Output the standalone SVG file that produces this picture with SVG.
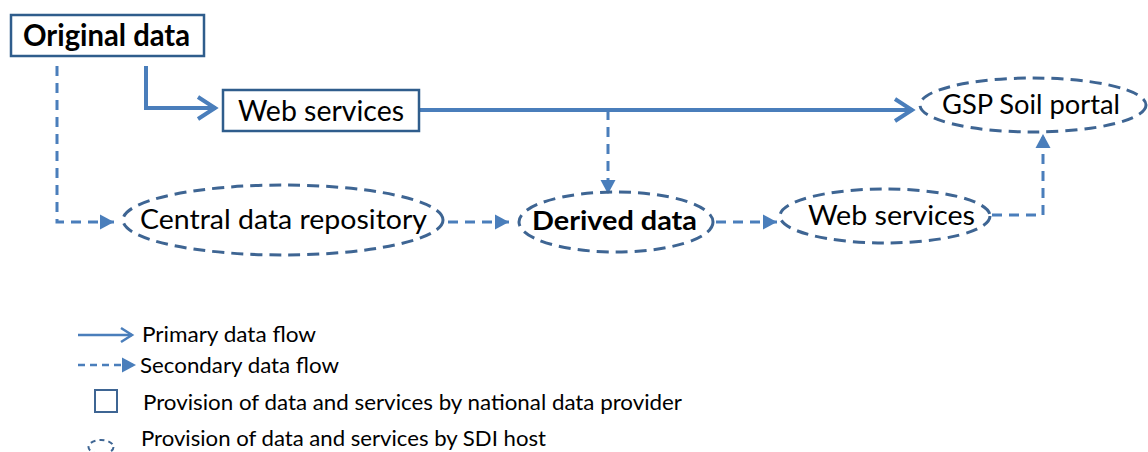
<svg xmlns="http://www.w3.org/2000/svg" width="1148" height="452" viewBox="0 0 1148 452">
<style>
  text { font-family: Lato, "Open Sans", "Liberation Sans", sans-serif; fill: #000; }
  .box { fill: #fff; stroke: #2F5D8C; stroke-width: 2.5; }
  .ell { fill: none; stroke: #3E6593; stroke-width: 3; stroke-dasharray: 12 7; }
  .solid { fill: none; stroke: #4A7EBB; stroke-width: 4; }
  .dash { fill: none; stroke: #4A7EBB; stroke-width: 3; stroke-dasharray: 10 7; }
  .big { font-size: 27px; }
  .leg { font-size: 21px; }
</style>
<defs>
  <marker id="chev" markerUnits="userSpaceOnUse" markerWidth="26" markerHeight="28" refX="21" refY="13" orient="auto">
    <path d="M3,2 L20,13 L3,24" fill="none" stroke="#4A7EBB" stroke-width="4" stroke-linejoin="miter"/>
  </marker>
  <marker id="chevS" markerUnits="userSpaceOnUse" markerWidth="18" markerHeight="18" refX="14" refY="9" orient="auto">
    <path d="M3,2 L14,9 L3,16" fill="none" stroke="#4A7EBB" stroke-width="2.5"/>
  </marker>
  <marker id="tri" markerUnits="userSpaceOnUse" markerWidth="15" markerHeight="18" refX="14" refY="9" orient="auto">
    <path d="M0,1.5 L14,9 L0,16.5 Z" fill="#4A7EBB"/>
  </marker>
</defs>

<g id="connectors">
  <path class="solid" d="M146 66 V108 H216" marker-end="url(#chev)"/>
  <path class="solid" d="M419 110 H913" marker-end="url(#chev)"/>
  <path class="dash" d="M57 66 V222 H114" marker-end="url(#tri)"/>
  <path class="dash" d="M608 110 V194" marker-end="url(#tri)"/>
  <path class="dash" d="M448 222 H509" marker-end="url(#tri)"/>
  <path class="dash" d="M716 222 H777" marker-end="url(#tri)"/>
  <path class="dash" d="M992 215 H1043 V134" marker-end="url(#tri)"/>
</g>

<g id="original-data">
  <rect class="box" x="11" y="15" width="193" height="41"/>
  <text x="23" y="46" font-size="30" font-weight="bold" textLength="167" lengthAdjust="spacingAndGlyphs">Original data</text>
</g>

<g id="web-services-1">
  <rect class="box" x="223" y="90" width="196" height="41"/>
  <text x="238" y="121" font-size="28" textLength="166" lengthAdjust="spacingAndGlyphs">Web services</text>
</g>

<g id="gsp-soil-portal">
  <ellipse class="ell" cx="1033" cy="105" rx="113" ry="27"/>
  <text x="942" y="114" class="big" textLength="178" lengthAdjust="spacingAndGlyphs">GSP Soil portal</text>
</g>

<g id="central-data-repository">
  <ellipse class="ell" cx="283" cy="220" rx="160" ry="35"/>
  <text x="140" y="229" class="big" textLength="287" lengthAdjust="spacingAndGlyphs">Central data repository</text>
</g>

<g id="derived-data">
  <ellipse class="ell" cx="616" cy="222" rx="97" ry="30"/>
  <text x="532" y="230" font-size="27" font-weight="bold" textLength="165" lengthAdjust="spacingAndGlyphs">Derived data</text>
</g>

<g id="web-services-2">
  <ellipse class="ell" cx="885" cy="216" rx="105" ry="27"/>
  <text x="808" y="225" font-size="27" textLength="167" lengthAdjust="spacingAndGlyphs">Web services</text>
</g>

<g id="legend">
  <path d="M78 335 H132" fill="none" stroke="#4A7EBB" stroke-width="2.5" marker-end="url(#chevS)"/>
  <text x="142" y="342" class="leg" textLength="174" lengthAdjust="spacingAndGlyphs">Primary data flow</text>
  <path d="M78 365 H136" fill="none" stroke="#4A7EBB" stroke-width="2.5" stroke-dasharray="7 5" marker-end="url(#tri)"/>
  <text x="140" y="373" class="leg" textLength="199" lengthAdjust="spacingAndGlyphs">Secondary data flow</text>
  <rect x="95" y="390" width="22" height="22" fill="none" stroke="#3E6593" stroke-width="2"/>
  <text x="143" y="410" class="leg" textLength="539" lengthAdjust="spacingAndGlyphs">Provision of data and services by national data provider</text>
  <ellipse cx="101" cy="447" rx="12.5" ry="7" fill="none" stroke="#3E6593" stroke-width="2" stroke-dasharray="5 4"/>
  <text x="141" y="446" class="leg" textLength="405" lengthAdjust="spacingAndGlyphs">Provision of data and services by SDI host</text>
</g>
</svg>
